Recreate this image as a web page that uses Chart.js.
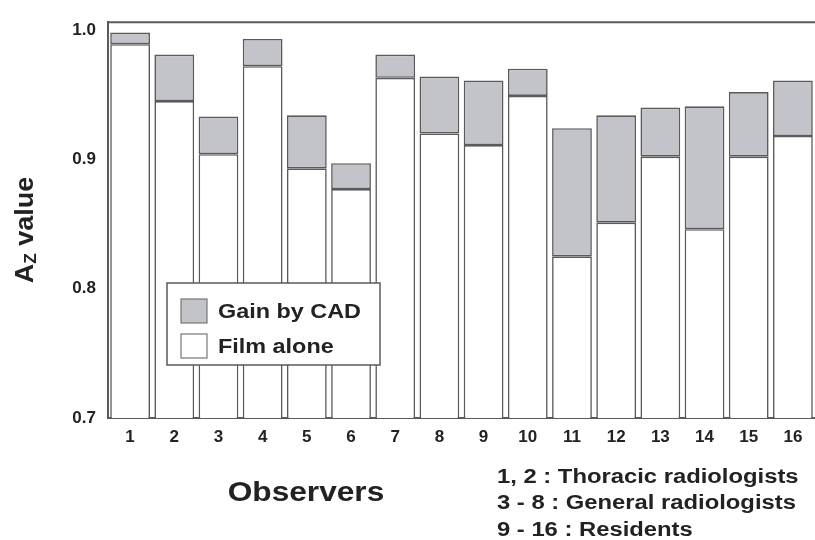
<!DOCTYPE html>
<html>
<head>
<meta charset="utf-8">
<script src="https://cdn.jsdelivr.net/npm/chart.js@4.4.1/dist/chart.umd.min.js"></script>
<style>
  html, body { margin: 0; padding: 0; background: #fff; }
  #wrap { width: 815px; height: 540px; }
</style>
</head>
<body>
<div id="wrap"><canvas id="chart" width="815" height="540"></canvas></div>
<script>
// ---- data ----
const observers = ["1","2","3","4","5","6","7","8","9","10","11","12","13","14","15","16"];
const filmAlone = [0.989, 0.945, 0.904, 0.972, 0.893, 0.877, 0.963, 0.920, 0.911, 0.949, 0.825, 0.851, 0.902, 0.846, 0.902, 0.918];
const withCAD   = [0.998, 0.981, 0.933, 0.993, 0.934, 0.897, 0.981, 0.964, 0.961, 0.970, 0.924, 0.934, 0.940, 0.941, 0.952, 0.961];
const yTicks = [0.7, 0.8, 0.9, 1.0];
const groupNotes = ["1, 2 : Thoracic radiologists", "3 - 8 : General radiologists", "9 - 16 : Residents"];

const gainByCAD = withCAD.map((v, i) => +(v - filmAlone[i]).toFixed(3));

const FONT = "'Liberation Sans', Arial, sans-serif";
const INK = "#222";
const EDGE = "#5a5a5a";
const GAIN_FILL = "#c3c3ca";

// text a bit wider than Arial, like the scanned figure
function wideText(ctx, text, x, y, sx, align) {
  ctx.save();
  ctx.translate(x, y);
  ctx.scale(sx, 1);
  ctx.textAlign = align;
  ctx.fillText(text, 0, 0);
  ctx.restore();
}

/* ===== extra drawing: titles, notes, legend, top frame ===== */
const decorations = {
  id: "decorations",
  afterDraw(chart) {
    const ctx = chart.ctx;
    const a = chart.chartArea;
    ctx.save();

    // top frame line
    ctx.strokeStyle = EDGE;
    ctx.lineWidth = 2;
    ctx.beginPath();
    ctx.moveTo(a.left - 1, a.top);
    ctx.lineTo(a.right, a.top);
    ctx.stroke();

    // y title "A_Z value" rotated
    ctx.fillStyle = INK;
    ctx.save();
    ctx.translate(33, 230);
    ctx.rotate(-Math.PI / 2);
    ctx.scale(1.08, 1);
    ctx.textBaseline = "alphabetic";
    ctx.textAlign = "left";
    const big = "bold 25px " + FONT, small = "bold 16px " + FONT;
    ctx.font = big;
    const wA = ctx.measureText("A").width;
    ctx.font = small;
    const wZ = ctx.measureText("Z").width;
    ctx.font = big;
    const wV = ctx.measureText(" value").width;
    let x0 = -(wA + wZ + wV) / 2;
    ctx.fillText("A", x0, 0);
    ctx.font = small;
    ctx.fillText("Z", x0 + wA, 3);
    ctx.font = big;
    ctx.fillText(" value", x0 + wA + wZ, 0);
    ctx.restore();

    // x title
    ctx.font = "bold 28px " + FONT;
    ctx.textBaseline = "middle";
    wideText(ctx, "Observers", 306, 493, 1.13, "center");

    // group notes
    ctx.font = "bold 20px " + FONT;
    groupNotes.forEach((t, i) => wideText(ctx, t, 497, 477 + i * 26.5, 1.19, "left"));

    // legend box
    const lx = 167, ly = 283, lw = 213, lh = 82;
    ctx.fillStyle = "#fff";
    ctx.fillRect(lx, ly, lw, lh);
    ctx.strokeStyle = EDGE;
    ctx.lineWidth = 1.5;
    ctx.strokeRect(lx, ly, lw, lh);
    const ds = chart.data.datasets;
    const items = [ds[1], ds[0]];
    ctx.font = "bold 20px " + FONT;
    ctx.textBaseline = "middle";
    items.forEach((d, i) => {
      const cy = ly + 28 + i * 35;
      ctx.fillStyle = d.backgroundColor;
      ctx.fillRect(181, cy - 12, 26, 24);
      ctx.strokeStyle = "#777";
      ctx.lineWidth = 1.2;
      ctx.strokeRect(181, cy - 12, 26, 24);
      ctx.fillStyle = INK;
      wideText(ctx, d.label, 218, cy + 1, 1.17, "left");
    });

    ctx.restore();
  }
};

new Chart(document.getElementById("chart"), {
  type: "bar",
  data: {
    labels: observers,
    datasets: [
      { label: "Film alone", data: filmAlone, backgroundColor: "#ffffff",
        borderColor: EDGE, borderWidth: 1.6, borderSkipped: false,
        barPercentage: 0.9, categoryPercentage: 1.0 },
      { label: "Gain by CAD", data: gainByCAD, backgroundColor: GAIN_FILL,
        borderColor: EDGE, borderWidth: 1.6, borderSkipped: false,
        barPercentage: 0.9, categoryPercentage: 1.0 }
    ]
  },
  options: {
    responsive: false,
    animation: false,
    layout: { padding: { top: 21, right: 0, left: 0, bottom: 0 } },
    plugins: { legend: { display: false }, tooltip: { enabled: false } },
    scales: {
      x: {
        stacked: true,
        grid: { display: false, drawTicks: false },
        border: { display: true, color: EDGE, width: 2 },
        ticks: { color: INK, font: { family: FONT, weight: "bold", size: 17 }, padding: 9, maxRotation: 0 },
        afterFit: s => { s.height = 122; }
      },
      y: {
        stacked: true,
        min: 0.7,
        max: 1.006,
        grid: { display: false, drawTicks: false },
        border: { display: true, color: EDGE, width: 2 },
        ticks: {
          color: INK, font: { family: FONT, weight: "bold", size: 17 }, padding: 12,
          callback: v => Number(v).toFixed(1)
        },
        afterBuildTicks: s => { s.ticks = yTicks.map(v => ({ value: v })); },
        afterFit: s => { s.width = 108; }
      }
    }
  },
  plugins: [decorations]
});
</script>
</body>
</html>
